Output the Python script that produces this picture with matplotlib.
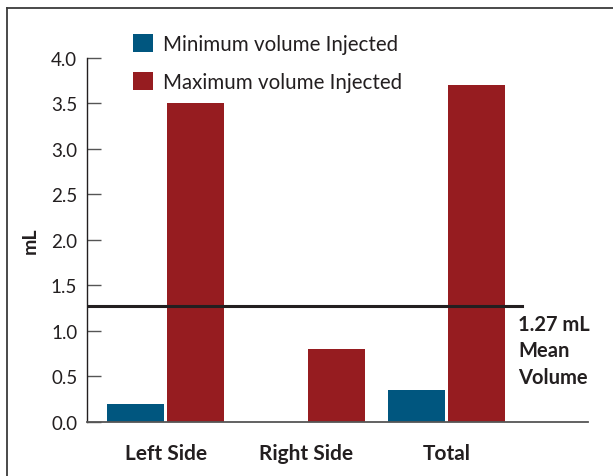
import matplotlib
matplotlib.use("Agg")
import matplotlib.pyplot as plt
from matplotlib.lines import Line2D
from matplotlib.patches import Patch
import numpy as np

plt.rcParams['font.family'] = ['Lato', 'DejaVu Sans']

categories = ["Left Side", "Right Side", "Total"]
min_volume = [0.2, 0.0, 0.35]
max_volume = [3.5, 0.8, 3.7]
mean_volume = 1.27
series_labels = ["Minimum volume Injected", "Maximum volume Injected"]
yticks = [0.0, 0.5, 1.0, 1.5, 2.0, 2.5, 3.0, 3.5, 4.0]

BLUE = "#00567f"
RED = "#961c20"
TEXT = "#231f20"

W, H = 613, 477
fig = plt.figure(figsize=(W / 100, H / 100), dpi=100)

# outer frame (top and left only)
fig.add_artist(Line2D([7 / W, 7 / W], [0, 1 - 8.5 / H], transform=fig.transFigure,
                      color="#3c3c3c", lw=1.3))
fig.add_artist(Line2D([7 / W, 1], [1 - 8.5 / H, 1 - 8.5 / H], transform=fig.transFigure,
                      color="#3c3c3c", lw=1.3))

ax = fig.add_axes([87 / W, (H - 422.7) / H, (588 - 87) / W, (422.7 - 59) / H])

x = np.arange(len(categories))
bw = 0.406
off = 0.2135
ax.bar(x - off, min_volume, bw, color=BLUE, zorder=2)
ax.bar(x + off, max_volume, bw, color=RED, zorder=2)

ax.set_xlim(-0.562, 3.004)
ax.set_ylim(0, 4.0)

ax.axhline(mean_volume, xmin=0, xmax=(521.7 - 87) / 501, color=TEXT, lw=2.2, zorder=3)
ax.text((518.3 - 87) / 501, (mean_volume - 0.085) / 4.0, "1.27 mL\nMean\nVolume",
        transform=ax.transAxes, ha="left", va="top", fontsize=14.5, fontweight="bold",
        color=TEXT, linespacing=1.4)

for s in ["top", "right"]:
    ax.spines[s].set_visible(False)
ax.spines["left"].set_color("#231f20")
ax.spines["left"].set_linewidth(1.0)
ax.spines["bottom"].set_color("#555555")
ax.spines["bottom"].set_linewidth(1.3)

ax.set_yticks(yticks)
ax.set_yticklabels([f"{v:.1f}" for v in yticks])
ax.tick_params(axis="y", direction="in", length=10, width=1.0, color="#555555",
               labelsize=13.5, labelcolor=TEXT, pad=7)
ax.set_xticks(x)
ax.set_xticklabels(categories, fontweight="bold", fontsize=15, color=TEXT)
ax.tick_params(axis="x", length=0, pad=15)

ax.set_ylabel("mL", fontweight="bold", fontsize=14, color=TEXT, labelpad=9)

handles = [Patch(facecolor=BLUE, edgecolor="none"), Patch(facecolor=RED, edgecolor="none")]
leg = fig.legend(handles, series_labels, loc="upper left",
                 bbox_to_anchor=(133 / W, 1 - 35 / H), frameon=False,
                 borderpad=0, borderaxespad=0,
                 fontsize=14.8, handlelength=0.97, handleheight=0.97,
                 handletextpad=0.47, labelspacing=0.85, labelcolor=TEXT)

fig.savefig("out.png", dpi=100)
